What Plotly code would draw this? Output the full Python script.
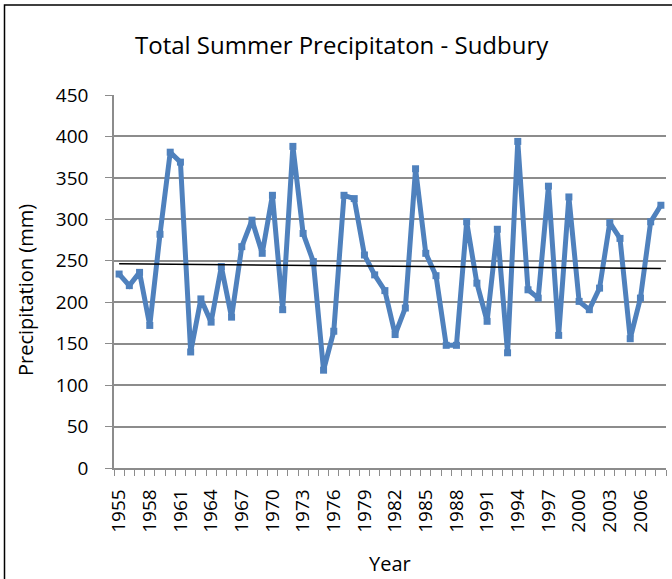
import plotly.graph_objects as go

years = list(range(1955, 2009))
precip = [234, 220, 236, 172, 282, 381, 369, 140, 204, 176,
          243, 182, 267, 299, 259, 329, 191, 388, 283, 249,
          118, 165, 329, 325, 257, 233, 214, 161, 193, 361,
          259, 232, 148, 148, 297, 223, 177, 288, 139, 394,
          215, 205, 340, 160, 327, 201, 191, 217, 296, 277,
          156, 205, 297, 317]
trend_years = [1955, 2008]
trend_values = [246.3, 240.7]
tick_years = list(range(1955, 2007, 3))
y_ticks = list(range(0, 451, 50))

W, H = 672, 579
L, R, T, B = 114, 6, 95, 111
pw, ph = W - L - R, H - T - B

font = "Open Sans"
blue = "#4F81BD"
grid = "#8C8C8C"

def px_x(p):
    return (p - L) / pw

def px_y(p):
    return 1 - (p - T) / ph

fig = go.Figure()
fig.add_trace(go.Scatter(
    x=years, y=precip, mode="lines+markers",
    line=dict(color=blue, width=5),
    marker=dict(symbol="square", size=7, color=blue),
    showlegend=False, cliponaxis=False))
fig.add_trace(go.Scatter(
    x=trend_years, y=trend_values, mode="lines",
    line=dict(color="black", width=1.5), showlegend=False))

fig.update_layout(
    width=W, height=H,
    margin=dict(l=L, r=R, t=T, b=B, pad=0, autoexpand=False),
    paper_bgcolor="white", plot_bgcolor="white",
    font=dict(family=font, color="black", size=19),
    xaxis=dict(
        range=[1954.5, 2008.5], tickmode="array", tickvals=tick_years,
        ticktext=[str(v) for v in tick_years], tickangle=-90,
        ticks="", showgrid=False, zeroline=False, automargin=False,
        showline=True, linecolor=grid, linewidth=1.5,
        tickfont=dict(size=19), ticklabelstandoff=12,
        minor=dict(tickmode="linear", tick0=1954.5, dtick=1,
                   ticks="outside", ticklen=6, tickcolor=grid,
                   tickwidth=1, showgrid=False),
    ),
    yaxis=dict(
        range=[0, 450], tickvals=y_ticks, ticks="outside", ticklen=7,
        tickcolor=grid, showgrid=True, gridcolor=grid, gridwidth=1.5,
        zeroline=False, showline=True, linecolor=grid, linewidth=1.5,
        automargin=False,
        tickfont=dict(size=19), ticklabelstandoff=13,
    ),
    annotations=[
        dict(text="Total Summer Precipitaton - Sudbury", xref="paper", yref="paper",
             x=px_x(341.5), y=px_y(45), xanchor="center", yanchor="middle",
             showarrow=False, font=dict(size=24, family=font)),
        dict(text="Precipitation (mm)", xref="paper", yref="paper",
             x=px_x(25), y=px_y(290), xanchor="center", yanchor="middle",
             textangle=-90, showarrow=False, font=dict(size=20, family=font)),
        dict(text="Year", xref="paper", yref="paper",
             x=px_x(390), y=px_y(563), xanchor="center", yanchor="middle",
             showarrow=False, font=dict(size=20, family=font)),
    ],
)

fig.add_shape(type="rect", xref="paper", yref="paper",
              x0=px_x(4.5), x1=px_x(W + 10),
              y0=px_y(H + 10), y1=px_y(5),
              line=dict(color="black", width=1.5), fillcolor="rgba(0,0,0,0)",
              layer="above")

fig.write_html("out.html", config={"displayModeBar": False},
               post_script="document.body.style.margin='0';document.body.style.overflow='hidden';")
